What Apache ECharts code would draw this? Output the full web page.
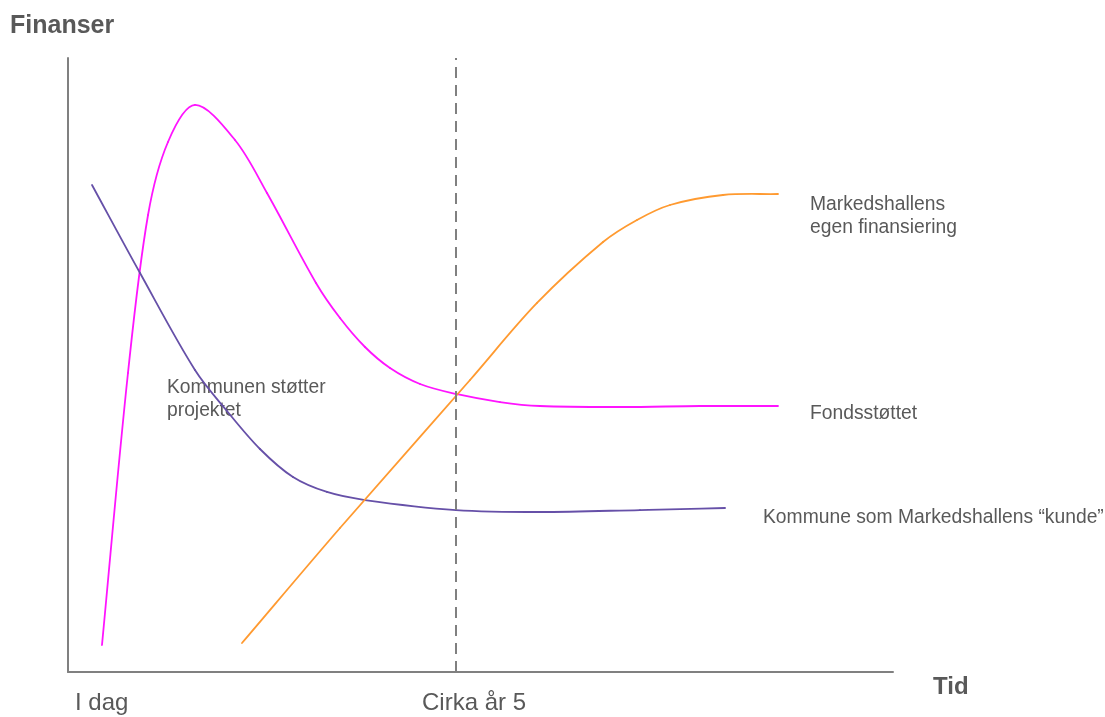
<!DOCTYPE html>
<html>
<head>
<meta charset="utf-8">
<script src="https://cdn.jsdelivr.net/npm/echarts@6/dist/echarts.min.js"></script>
<style>
  html, body { margin: 0; padding: 0; background: #fff; }
  #chart { width: 1105px; height: 717px; }
</style>
</head>
<body>
<div id="chart"></div>
<script>
// ---- Data (schematic values, x = time 0..100, y = finance 0..100) ----
const fondsX = [4.12, 7.27, 9.70, 12.12, 15.39, 20.24, 24.12, 30.06, 32.97, 36.00, 39.03, 42.67, 47.03, 52.36, 57.21, 67.27, 76.61, 86.06];
const fondsY = [4.40, 48.70, 74.43, 86.32, 92.35, 86.64, 78.01, 63.36, 57.65, 52.93, 49.51, 46.91, 45.28, 43.97, 43.32, 43.16, 43.32, 43.32];

const kommX = [2.91, 8.73, 15.39, 19.27, 23.27, 27.27, 31.39, 36.00, 47.03, 57.21, 69.33, 79.64];
const kommY = [79.32, 64.98, 49.19, 42.51, 36.32, 31.76, 29.32, 28.01, 26.38, 26.06, 26.38, 26.71];

const egenX = [21.09, 32.97, 48.73, 56.85, 64.85, 68.97, 72.97, 79.39, 86.06];
const egenY = [4.72, 23.45, 47.56, 60.10, 70.03, 73.62, 76.06, 77.69, 77.85];

const markerX = 47; // "Cirka år 5"
const tickLabels = ['I dag', 'Cirka år 5'];
const axisNames = ['Tid', 'Finanser'];
const seriesLabels = ['Fondsstøttet', 'Kommune som Markedshallens \u201ckunde\u201d', ['Markedshallens', 'egen finansiering']];
const noteLines = ['Kommunen støtter', 'projektet'];

const zip = (xs, ys) => xs.map((x, i) => [x, ys[i]]);

const FONT = "'Liberation Sans', Arial, Helvetica, sans-serif";
const TXT = '#595959';

const chart = echarts.init(document.getElementById('chart'), null, { renderer: 'canvas' });

// Smooth curve through all points (chord-length weighted Catmull-Rom -> cubic Béziers),
// positions obtained from the chart's own axes via api.coord.
function curveSeries(name, xs, ys, color, extra) {
  const data = zip(xs, ys);
  return Object.assign({
    name, type: 'custom', coordinateSystem: 'cartesian2d',
    encode: { x: 0, y: 1 }, data, clip: false, silent: true,
    renderItem(params, api) {
      if (params.dataIndex !== 0) return null;
      const P = data.map(d => api.coord(d));
      const n = P.length;
      const dist = (a, b) => Math.hypot(b[0] - a[0], b[1] - a[1]);
      const T = P.map((p, i) => {
        if (i === 0) { const d = dist(P[0], P[1]); return [(P[1][0] - P[0][0]) / d, (P[1][1] - P[0][1]) / d]; }
        if (i === n - 1) { const d = dist(P[n - 2], P[n - 1]); return [(P[n - 1][0] - P[n - 2][0]) / d, (P[n - 1][1] - P[n - 2][1]) / d]; }
        const d = dist(P[i - 1], P[i]) + dist(P[i], P[i + 1]);
        return [(P[i + 1][0] - P[i - 1][0]) / d, (P[i + 1][1] - P[i - 1][1]) / d];
      });
      const children = [];
      for (let i = 0; i < n - 1; i++) {
        const a = P[i], b = P[i + 1], h = dist(a, b) / 3;
        children.push({
          type: 'bezierCurve',
          shape: {
            x1: a[0], y1: a[1], x2: b[0], y2: b[1],
            cpx1: a[0] + T[i][0] * h, cpy1: a[1] + T[i][1] * h,
            cpx2: b[0] - T[i + 1][0] * h, cpy2: b[1] - T[i + 1][1] * h
          },
          style: { stroke: color, lineWidth: 1.8, fill: null, lineCap: 'round' }
        });
      }
      return { type: 'group', children };
    }
  }, extra || {});
}

const txt = (text, x, y, size, opts = {}) => ({
  type: 'text', x, y, silent: true,
  style: Object.assign({
    text, fill: TXT, font: `${opts.bold ? 'bold ' : ''}${size}px ${FONT}`,
    align: 'left', verticalAlign: 'middle'
  }, opts.style || {})
});

chart.setOption({
  animation: false,
  backgroundColor: '#fff',
  grid: { left: 68, right: 212, top: 58, bottom: 45 },
  xAxis: {
    type: 'value', min: 0, max: 100,
    axisLine: { show: true, lineStyle: { color: '#808080', width: 2 } },
    axisTick: { show: false }, axisLabel: { show: false }, splitLine: { show: false }
  },
  yAxis: {
    type: 'value', min: 0, max: 100,
    axisLine: { show: true, lineStyle: { color: '#808080', width: 2 } },
    axisTick: { show: false }, axisLabel: { show: false }, splitLine: { show: false }
  },
  series: [
    curveSeries(seriesLabels[0], fondsX, fondsY, '#ff14ff', {
      markLine: {
        silent: true, symbol: ['none', 'none'], label: { show: false },
        lineStyle: { color: '#808080', type: [11, 7], width: 2 },
        data: [{ xAxis: markerX }]
      }
    }),
    curveSeries(seriesLabels[1], kommX, kommY, '#6650a8'),
    curveSeries(seriesLabels[2][0], egenX, egenY, '#ff9a30')
  ],
  graphic: [
    txt(axisNames[1], 10, 26, 25, { bold: true }),
    txt(axisNames[0], 933, 687, 24, { bold: true }),
    txt(tickLabels[0], 75, 703, 24),
    txt(tickLabels[1], 474, 703, 24, { style: { align: 'center' } }),
    txt(seriesLabels[2][0], 810, 205, 19.3),
    txt(seriesLabels[2][1], 810, 228, 19.3),
    txt(seriesLabels[0], 810, 414, 19.3),
    txt(seriesLabels[1], 763, 518, 19.3),
    txt(noteLines[0], 167, 388, 19.3),
    txt(noteLines[1], 167, 411, 19.3)
  ]
});
</script>
</body>
</html>
